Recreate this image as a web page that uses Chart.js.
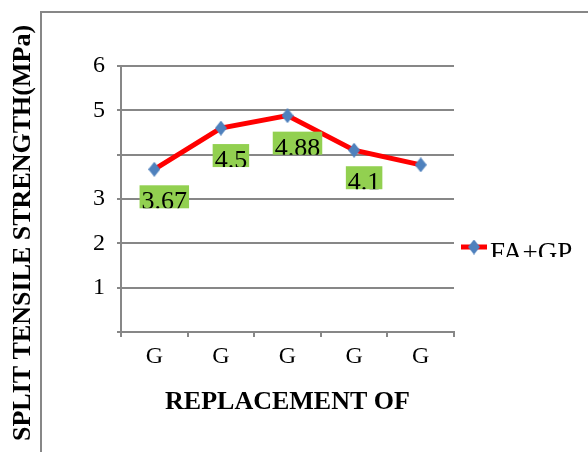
<!DOCTYPE html>
<html>
<head>
<meta charset="utf-8">
<script src="https://cdn.jsdelivr.net/npm/chart.js@4.4.1/dist/chart.umd.min.js"></script>
<style>
  html, body { margin: 0; padding: 0; background: #fff; }
  #wrap { width: 588px; height: 452px; position: relative; overflow: hidden; }
</style>
</head>
<body>
<div id="wrap"><canvas id="chart-split" width="588" height="452"></canvas></div>
<script>
/* Split tensile strength vs replacement — single line series */

const CATEGORIES = ['G', 'G', 'G', 'G', 'G'];
const SERIES_NAME = 'FA+GP';
const STRENGTH = [3.67, 4.6, 4.88, 4.1, 3.77];
const POINT_LABELS = ['3.67', '4.5', '4.88', '4.1', ''];
const Y_TICKS_SHOWN = [1, 2, 3, 5, 6];
const Y_TITLE = 'SPLIT TENSILE STRENGTH(MPa)';
const X_TITLE = 'REPLACEMENT OF';

const SERIF = "'Liberation Serif', 'Times New Roman', serif";
const GRID = '#878787';
const LINE_RED = '#FF0000';
const MARKER_BLUE = '#4F81BD';
const LABEL_GREEN = '#92D050';

// elongated diamond marker
function makeDiamond(w, h, color) {
  const c = document.createElement('canvas');
  c.width = w; c.height = h;
  const g = c.getContext('2d');
  g.fillStyle = color;
  g.beginPath();
  g.moveTo(w / 2, 0); g.lineTo(w, h / 2); g.lineTo(w / 2, h); g.lineTo(0, h / 2);
  g.closePath(); g.fill();
  return c;
}
const diamond = makeDiamond(12, 15, MARKER_BLUE);

// ─── Frame, rotated y title, data labels, legend ───────────────
const decor = {
  id: 'decor',
  beforeDraw(chart) {
    const ctx = chart.ctx;
    ctx.save();
    ctx.strokeStyle = GRID;
    ctx.lineWidth = 2;
    ctx.beginPath();
    ctx.moveTo(41, 470); ctx.lineTo(41, 12); ctx.lineTo(600, 12);
    ctx.stroke();

    ctx.translate(23, 233);
    ctx.rotate(-Math.PI / 2);
    ctx.font = 'bold 26px ' + SERIF;
    ctx.fillStyle = '#000';
    ctx.textAlign = 'center';
    ctx.textBaseline = 'middle';
    ctx.fillText(Y_TITLE, 0, 0);
    ctx.restore();
  },
  afterDatasetsDraw(chart) {
    const ctx = chart.ctx;
    const meta = chart.getDatasetMeta(0);
    ctx.save();
    ctx.font = '26px ' + SERIF;
    meta.data.forEach((pt, i) => {
      const txt = POINT_LABELS[i];
      if (!txt) return;
      const w = ctx.measureText(txt).width + 4;
      const bx = pt.x + 10 - w / 2, by = pt.y + 16, bh = 23;
      ctx.fillStyle = LABEL_GREEN;
      ctx.fillRect(bx, by, w, bh);
      ctx.save();
      ctx.beginPath(); ctx.rect(bx, by, w, bh); ctx.clip();
      ctx.fillStyle = '#000';
      ctx.textAlign = 'center';
      ctx.textBaseline = 'alphabetic';
      ctx.fillText(txt, bx + w / 2, by + 24);
      ctx.restore();
    });

    // legend entry
    const ds = chart.data.datasets[0];
    const ly = 247;
    ctx.strokeStyle = ds.borderColor;
    ctx.lineWidth = 5;
    ctx.beginPath(); ctx.moveTo(461, ly); ctx.lineTo(487, ly); ctx.stroke();
    ctx.drawImage(diamond, 474 - 6, ly - 7.5);
    ctx.save();
    ctx.beginPath(); ctx.rect(488, 230, 100, 27); ctx.clip();
    ctx.font = '27px ' + SERIF;
    ctx.fillStyle = '#000';
    ctx.textAlign = 'left';
    ctx.textBaseline = 'alphabetic';
    ctx.fillText(ds.label, 490, 261);
    ctx.restore();
    ctx.restore();
  }
};

const ctx = document.getElementById('chart-split').getContext('2d');
new Chart(ctx, {
  type: 'line',
  data: {
    labels: CATEGORIES,
    datasets: [{
      label: SERIES_NAME,
      data: STRENGTH,
      borderColor: LINE_RED,
      borderWidth: 5,
      tension: 0,
      fill: false,
      pointStyle: diamond,
      pointRadius: 7,
      pointHoverRadius: 7,
    }]
  },
  options: {
    responsive: false,
    animation: false,
    layout: { padding: { left: 0, top: 66, right: 134, bottom: 30 } },
    plugins: { legend: { display: false }, tooltip: { enabled: false } },
    scales: {
      x: {
        offset: true,
        grid: { offset: true, drawOnChartArea: false, color: GRID, lineWidth: 2, tickLength: 5 },
        border: { color: GRID, width: 2 },
        ticks: { color: '#000', font: { family: SERIF, size: 24 }, padding: 5, maxRotation: 0, autoSkip: false },
        title: { display: true, text: X_TITLE, color: '#000', font: { family: SERIF, size: 26, weight: 'bold' } },
        afterFit: (s) => { s.height = 90; }
      },
      y: {
        min: 0, max: 6,
        ticks: {
          stepSize: 1, color: '#000', padding: 12,
          font: { family: SERIF, size: 24 },
          callback: (v) => Y_TICKS_SHOWN.includes(v) ? v : ''
        },
        grid: { color: GRID, lineWidth: 2, tickLength: 4 },
        border: { color: GRID, width: 2 },
        afterFit: (s) => { s.width = 121; }
      }
    }
  },
  plugins: [decor]
});
</script>
</body>
</html>
